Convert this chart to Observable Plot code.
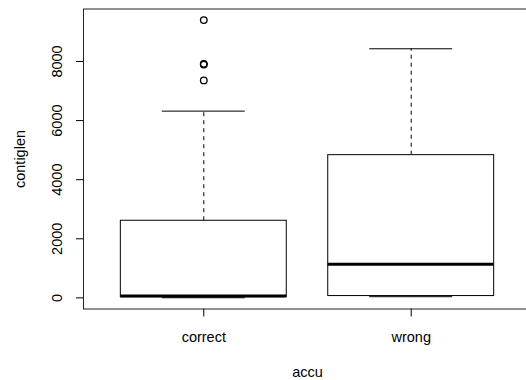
<!DOCTYPE html>
<html>
<head>
<meta charset="utf-8">
<script src="https://cdn.jsdelivr.net/npm/d3@7"></script>
<script src="https://cdn.jsdelivr.net/npm/@observablehq/plot@0.6"></script>
<style>
  html, body { margin: 0; padding: 0; background: #fff; }
  #chart { width: 526px; height: 380px; overflow: hidden; }
</style>
</head>
<body>
<div id="chart"></div>
<script>
// ---- data ----
const categories = ["correct", "wrong"];
const whiskerLow = [5, 40];
const q1 = [25, 62];
const median = [60, 1140];
const q3 = [2610, 4830];
const whiskerHigh = [6320, 8430];
const outlierGroup = ["correct", "correct", "correct", "correct"];
const outlierValue = [9400, 7920, 7895, 7360];
const yTicks = [0, 2000, 4000, 6000, 8000];
const xLabel = "accu";
const yLabel = "contiglen";

// ---- tables built from the arrays ----
const stats = categories.map((c, i) => ({
  cat: c, pos: i + 1,
  lo: whiskerLow[i], q1: q1[i], med: median[i], q3: q3[i], hi: whiskerHigh[i]
}));
const outliers = outlierGroup.map((c, i) => ({
  pos: categories.indexOf(c) + 1, value: outlierValue[i]
}));

const halfBox = 0.4, halfCap = 0.2;
const yMax = 9400, yMin = 0, pad = (yMax - yMin) * 0.04;

const chart = Plot.plot({
  width: 526,
  height: 380,
  marginLeft: 83,
  marginRight: -5,
  marginTop: 8.5,
  marginBottom: 71.5,
  style: { fontFamily: "'Liberation Sans', Arial, Helvetica, sans-serif", fontSize: "14.5px", color: "#000", background: "#fff" },
  x: {
    domain: [0.42, 2.58],
    ticks: categories.map((c, i) => i + 1),
    tickFormat: v => categories[v - 1],
    tickSize: 8,
    tickPadding: 15,
    label: xLabel,
    labelArrow: "none",
    labelAnchor: "center",
    labelOffset: 68
  },
  y: {
    domain: [yMin - pad, yMax + pad],
    ticks: yTicks,
    tickFormat: d => String(d),
    tickSize: 7,
    tickPadding: 15,
    tickRotate: -90,
    label: yLabel,
    labelArrow: "none",
    labelAnchor: "center",
    labelOffset: 69
  },
  marks: [
    Plot.frame({ stroke: "#222" }),
    // dashed whiskers
    Plot.ruleX(stats, { x: "pos", y1: "q3", y2: "hi", stroke: "#000", strokeDasharray: "4,4" }),
    Plot.ruleX(stats, { x: "pos", y1: "lo", y2: "q1", stroke: "#000", strokeDasharray: "4,4" }),
    // whisker caps
    Plot.ruleY(stats, { y: "hi", x1: d => d.pos - halfCap, x2: d => d.pos + halfCap, stroke: "#000" }),
    Plot.ruleY(stats, { y: "lo", x1: d => d.pos - halfCap, x2: d => d.pos + halfCap, stroke: "#000" }),
    // boxes
    Plot.rect(stats, { x1: d => d.pos - halfBox, x2: d => d.pos + halfBox, y1: "q1", y2: "q3", fill: "#fff", stroke: "#000" }),
    // medians
    Plot.ruleY(stats, { y: "med", x1: d => d.pos - halfBox, x2: d => d.pos + halfBox, stroke: "#000", strokeWidth: 3 }),
    // outliers
    Plot.dot(outliers, { x: "pos", y: "value", r: 3.3, stroke: "#000", strokeWidth: 1.3, fill: "none" })
  ]
});
document.getElementById("chart").appendChild(chart);
</script>
</body>
</html>
